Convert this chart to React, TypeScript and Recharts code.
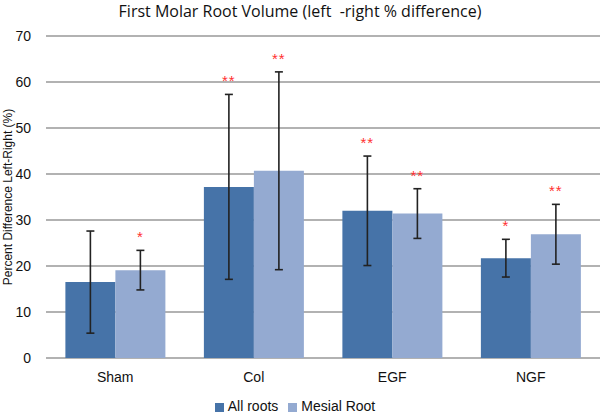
import React from "react";
import {
  BarChart,
  Bar,
  XAxis,
  YAxis,
  CartesianGrid,
  ErrorBar,
  Legend,
  LabelList,
  Label,
} from "recharts";

const groups = ["Sham", "Col", "EGF", "NGF"];
const allRoots = [16.5, 37.2, 32.0, 21.7];
const allRootsErr = [11.1, 20.1, 11.9, 4.1];
const allRootsSig = ["", "**", "**", "*"];
const mesialRoot = [19.1, 40.7, 31.4, 26.9];
const mesialRootErr = [4.3, 21.5, 5.4, 6.5];
const mesialRootSig = ["*", "**", "**", "**"];
const yTicks = [0, 10, 20, 30, 40, 50, 60, 70];

const DARK = "#4673a8";
const LIGHT = "#94aad1";
const FONT = "'Liberation Sans', Arial, sans-serif";

const chartData = groups.map((g, i) => ({
  name: g,
  all: allRoots[i],
  allErr: allRootsErr[i],
  mesial: mesialRoot[i],
  mesialErr: mesialRootErr[i],
}));

// stars sit a bit above the top of the error bar
const starLabel = (values: number[], errs: number[], sig: string[]) => (props: any) => {
  const { x, y, width, height, index } = props;
  const mark = sig[index];
  if (!mark) return null;
  const px = height / values[index];
  const top = y - errs[index] * px;
  return (
    <text
      x={x + width / 2}
      y={top - 8}
      textAnchor="middle"
      fill="#ff3030"
      fontSize={15}
      letterSpacing={1}
      fontFamily={FONT}
    >
      {mark}
    </text>
  );
};

export default function App() {
  return (
    <div style={{ position: "absolute", left: 0, top: 0, width: 600, height: 418, background: "#fff" }}>
      <div
        style={{
          position: "absolute",
          top: 0,
          left: 0,
          width: 600,
          textAlign: "center",
          fontFamily: "'Open Sans', sans-serif",
          fontSize: 16,
          whiteSpace: "pre",
          color: "#111",
          lineHeight: "22px",
        }}
      >
        {"First Molar Root Volume (left  -right % difference)"}
      </div>
      <BarChart
        width={600}
        height={418}
        data={chartData}
        margin={{ top: 36, right: 0, left: 0, bottom: 0 }}
        barCategoryGap="14%"
        barGap={0}
      >
        <CartesianGrid vertical={false} stroke="#999" strokeWidth={1.3} />
        <XAxis
          dataKey="name"
          axisLine={false}
          tickLine={false}
          height={40}
          tickMargin={8}
          tick={{ fill: "#111", fontSize: 14, fontFamily: FONT }}
        />
        <YAxis
          domain={[0, 70]}
          ticks={yTicks}
          width={46}
          axisLine={false}
          tickLine={false}
          tickMargin={9}
          interval={0}
          tick={{ fill: "#111", fontSize: 14, fontFamily: FONT }}
        >
          <Label
            value="Percent Difference Left-Right (%)"
            angle={-90}
            position="insideLeft"
            offset={8}
            style={{ textAnchor: "middle", fill: "#111", fontSize: 12, fontFamily: FONT }}
          />
        </YAxis>
        <Legend
          verticalAlign="bottom"
          height={20}
          iconType="square"
          iconSize={9}
          wrapperStyle={{ fontFamily: FONT, fontSize: 14 }}
          formatter={(v: string) => <span style={{ color: "#111" }}>{v}</span>}
        />
        <Bar dataKey="all" name="All roots" fill={DARK} isAnimationActive={false}>
          <ErrorBar dataKey="allErr" width={4} stroke="#222" strokeWidth={1.6} />
          <LabelList content={starLabel(allRoots, allRootsErr, allRootsSig)} />
        </Bar>
        <Bar dataKey="mesial" name="Mesial Root" fill={LIGHT} isAnimationActive={false}>
          <ErrorBar dataKey="mesialErr" width={4} stroke="#222" strokeWidth={1.6} />
          <LabelList content={starLabel(mesialRoot, mesialRootErr, mesialRootSig)} />
        </Bar>
      </BarChart>
    </div>
  );
}
